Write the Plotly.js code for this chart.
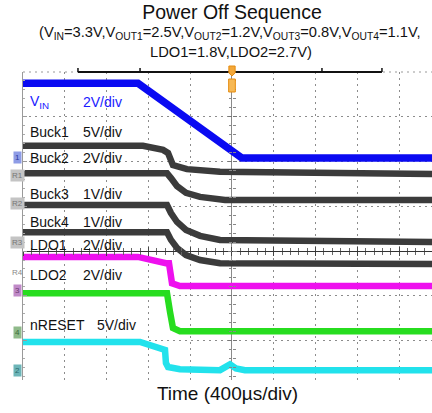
<!DOCTYPE html>
<html>
<head>
<meta charset="utf-8">
<script src="https://cdn.plot.ly/plotly-3.0.1.min.js"></script>
<style>html,body{margin:0;padding:0;background:#fff}#chart{width:432px;height:413px}</style>
</head>
<body>
<div id="chart"></div>
<script>
// Time in microseconds (400 us/div, trigger at 0), levels in screen divisions (0 = centre line)
const tVin    = [-2000, -900, 95, 2000];
const vVin    = [3.75, 3.75, 2.08, 2.08];
const tBuck1  = [-2000, -852, -660, -612, -565, -431, -115, 2000];
const vBuck1  = [2.35, 2.35, 2.26, 2.19, 1.92, 1.83, 1.77, 1.72];
const tBuck2  = [-2000, -622, -584, -526, -440, -306, -67, 2000];
const vBuck2  = [1.74, 1.74, 1.63, 1.45, 1.30, 1.21, 1.14, 1.14];
const tBuck3  = [-2000, -622, -584, -526, -440, -306, -115, 2000];
const vBuck3  = [1.03, 1.03, 0.85, 0.65, 0.47, 0.34, 0.25, 0.20];
const tBuck4  = [-2000, -622, -584, -526, -440, -306, -115, 2000];
const vBuck4  = [0.42, 0.42, 0.25, 0.07, -0.09, -0.20, -0.27, -0.29];
const tLdo1   = [-2000, -900, -632, -603, -574, -498, 2000];
const vLdo1   = [-0.13, -0.13, -0.27, -0.27, -0.72, -0.78, -0.78];
const tLdo2   = [-2000, -622, -593, -565, -498, 2000];
const vLdo2   = [-0.94, -0.94, -1.36, -1.72, -1.79, -1.79];
const tReset  = [-2000, -880, -641, -632, -612, -498, -115, -57, -19, 38, 124, 2000];
const vReset  = [-2.03, -2.03, -2.21, -2.50, -2.59, -2.64, -2.66, -2.57, -2.53, -2.62, -2.66, -2.66];

const labelNames  = ['V<sub>IN</sub>', 'Buck1', 'Buck2', 'Buck3', 'Buck4', 'LDO1', 'LDO2', 'nRESET'];
const labelScales = ['2V/div', '5V/div', '2V/div', '1V/div', '1V/div', '2V/div', '2V/div', '5V/div'];
const labelLevels = [3.33, 2.66, 2.08, 1.27, 0.65, 0.13, -0.54, -1.65];

const markerTexts  = ['1', 'R1', 'R2', 'R3', 'R4', '3', '4', '2'];
const markerLevels = [2.08, 1.68, 1.07, 0.20, -0.47, -0.89, -1.83, -2.66];

const FONT = 'Liberation Sans, Arial, sans-serif';
const XR = [-2000, 1914];
const YR = [-2.88, 4.0];
const x0p = (0 - XR[0]) / (XR[1] - XR[0]);
const y0p = (0 - YR[0]) / (YR[1] - YR[0]);

function tr(x, y, color, w) {
  return {x: x, y: y, mode: 'lines', line: {color: color, width: w}, hoverinfo: 'skip', showlegend: false};
}
const dark = '#3b3b3b';
const data = [
  tr(tBuck1, vBuck1, dark, 6.5),
  tr(tBuck2, vBuck2, dark, 6.5),
  tr(tBuck3, vBuck3, dark, 6.5),
  tr(tBuck4, vBuck4, dark, 6.5),
  tr(tLdo2, vLdo2, '#27dd1f', 6.5),
  tr(tLdo1, vLdo1, '#ee10ee', 6.5),
  tr(tReset, vReset, '#22e2ec', 6.5),
  tr(tVin, vVin, '#0a0af2', 7.5),
  {x: [null], y: [null], xaxis: 'x2', yaxis: 'y', hoverinfo: 'skip', showlegend: false},
  {x: [null], y: [null], xaxis: 'x3', yaxis: 'y', hoverinfo: 'skip', showlegend: false},
  {x: [null], y: [null], xaxis: 'x', yaxis: 'y2', hoverinfo: 'skip', showlegend: false},
  {x: [null], y: [null], xaxis: 'x', yaxis: 'y3', hoverinfo: 'skip', showlegend: false}
];

const ann = [];
labelNames.forEach((n, i) => {
  const col = i === 0 ? '#1a1aff' : '#111';
  ann.push({xref: 'paper', yref: 'y', x: 5 / 409, y: labelLevels[i], xanchor: 'left', yanchor: 'middle',
    text: n, showarrow: false, font: {family: FONT, size: 14, color: col}});
  ann.push({xref: 'paper', yref: 'y', x: (i === 7 ? 72 : 58) / 409, y: labelLevels[i], xanchor: 'left', yanchor: 'middle',
    text: labelScales[i], showarrow: false, font: {family: FONT, size: 14, color: col}});
});
const mColors = ['#8e9ce6', '#c4c4c4', '#c4c4c4', '#c4c4c4', 'rgba(0,0,0,0)', '#c08ac8', '#8fba8a', '#6db5b8'];
const mText = ['#2d3a9a', '#777', '#777', '#777', '#888', '#6a3a70', '#3d6a3a', '#2a6a6a'];
markerTexts.forEach((m, i) => {
  ann.push({xref: 'paper', yref: 'y', x: -6 / 409, y: markerLevels[i], xanchor: 'center', yanchor: 'middle',
    text: m, showarrow: false, bgcolor: mColors[i], borderpad: 1,
    font: {family: FONT, size: 8, color: mText[i]}});
});
ann.push({xref: 'paper', yref: 'paper', x: 207 / 409, y: 1 + 39 / 308, xanchor: 'center', yanchor: 'middle', showarrow: false,
  text: '(V<sub>IN</sub>=3.3V,V<sub>OUT1</sub>=2.5V,V<sub>OUT2</sub>=1.2V,V<sub>OUT3</sub>=0.8V,V<sub>OUT4</sub>=1.1V,',
  font: {family: FONT, size: 14.7, color: '#111'}});
ann.push({xref: 'paper', yref: 'paper', x: 208 / 409, y: 1 + 20 / 308, xanchor: 'center', yanchor: 'middle', showarrow: false,
  text: 'LDO1=1.8V,LDO2=2.7V)', font: {family: FONT, size: 14.7, color: '#111'}});

const px = 1 / 308;
const shapes = [
  {type: 'line', xref: 'paper', yref: 'paper', x0: 0, x1: 1, y0: 1, y1: 1, line: {color: '#999', width: 1, dash: '2px,4px'}},
  {type: 'line', xref: 'x', yref: 'paper', x0: -1474, x1: 1435, y0: 1, y1: 1, line: {color: '#111', width: 2}},
  ...[-1474, -880, 861, 1435].map(t => ({type: 'line', xref: 'x', yref: 'paper', x0: t, x1: t, y0: 1, y1: 1 + 4 * px, line: {color: '#111', width: 1.5}})),
  {type: 'path', xref: 'x', yref: 'paper',
    path: `M -30 ${1 + 6 * px} L 30 ${1 + 6 * px} L 30 ${1 - 1 * px} L 0 ${1 - 4 * px} L -30 ${1 - 1 * px} Z`,
    fillcolor: '#f3a83a', line: {color: '#e58c10', width: 1}},
  {type: 'rect', xref: 'x', yref: 'paper', x0: -32, x1: 32, y0: 1 - 20 * px, y1: 1 - 7 * px,
    fillcolor: '#f7b955', line: {color: '#e58c10', width: 1}}
];

const gridDash = '2px,4px';
const gridCol = '#8c8c8c';
const layout = {
  width: 432, height: 413,
  margin: {l: 23, r: 0, t: 72, b: 33, pad: 0},
  paper_bgcolor: '#fff', plot_bgcolor: '#fff',
  showlegend: false,
  title: {text: 'Power Off Sequence', xref: 'container', yref: 'container', x: 232 / 432, y: 1 - 12 / 413,
    xanchor: 'center', yanchor: 'middle', font: {family: FONT, size: 19.5, color: '#111'}},
  xaxis: {range: XR, tickmode: 'linear', tick0: 0, dtick: 400, showticklabels: false, ticks: '',
    showgrid: true, gridcolor: gridCol, griddash: gridDash, gridwidth: 1,
    zeroline: true, zerolinecolor: '#8a8a8a', zerolinewidth: 1, showline: false, fixedrange: true,
    title: {text: 'Time (400µs/div)', standoff: 6, font: {family: FONT, size: 19, color: '#111'}}, automargin: false},
  yaxis: {range: YR, tickmode: 'linear', tick0: 0, dtick: 1, showticklabels: false,
    showgrid: true, gridcolor: gridCol, griddash: gridDash, gridwidth: 1,
    zeroline: true, zerolinecolor: '#333', zerolinewidth: 1,
    showline: true, linecolor: '#9a9a9a', linewidth: 1, ticks: 'inside', ticklen: 4, tickcolor: '#9a9a9a',
    minor: {ticks: 'inside', dtick: 0.2, ticklen: 2, tickcolor: '#aaa'}, fixedrange: true, automargin: false},
  xaxis2: {overlaying: 'x', anchor: 'free', position: y0p, range: XR, tickmode: 'linear', tick0: 0, dtick: 400,
    showticklabels: false, showgrid: false, zeroline: false, showline: false,
    ticks: 'outside', ticklen: 4, tickcolor: '#444', minor: {ticks: 'outside', dtick: 80, ticklen: 3, tickcolor: '#666'}},
  xaxis3: {overlaying: 'x', anchor: 'free', position: y0p, range: XR, tickmode: 'linear', tick0: 0, dtick: 400,
    showticklabels: false, showgrid: false, zeroline: false, showline: false,
    ticks: 'inside', ticklen: 4, tickcolor: '#444', minor: {ticks: 'inside', dtick: 80, ticklen: 3, tickcolor: '#666'}},
  yaxis2: {overlaying: 'y', anchor: 'free', position: x0p, range: YR, tickmode: 'linear', tick0: 0, dtick: 1,
    showticklabels: false, showgrid: false, zeroline: false, showline: false,
    ticks: 'outside', ticklen: 4, tickcolor: '#777', minor: {ticks: 'outside', dtick: 0.2, ticklen: 3, tickcolor: '#888'}},
  yaxis3: {overlaying: 'y', anchor: 'free', position: x0p, range: YR, tickmode: 'linear', tick0: 0, dtick: 1,
    showticklabels: false, showgrid: false, zeroline: false, showline: false,
    ticks: 'inside', ticklen: 4, tickcolor: '#777', minor: {ticks: 'inside', dtick: 0.2, ticklen: 3, tickcolor: '#888'}},
  annotations: ann,
  shapes: shapes
};

Plotly.newPlot('chart', data, layout, {staticPlot: true, displayModeBar: false});
</script>
</body>
</html>
